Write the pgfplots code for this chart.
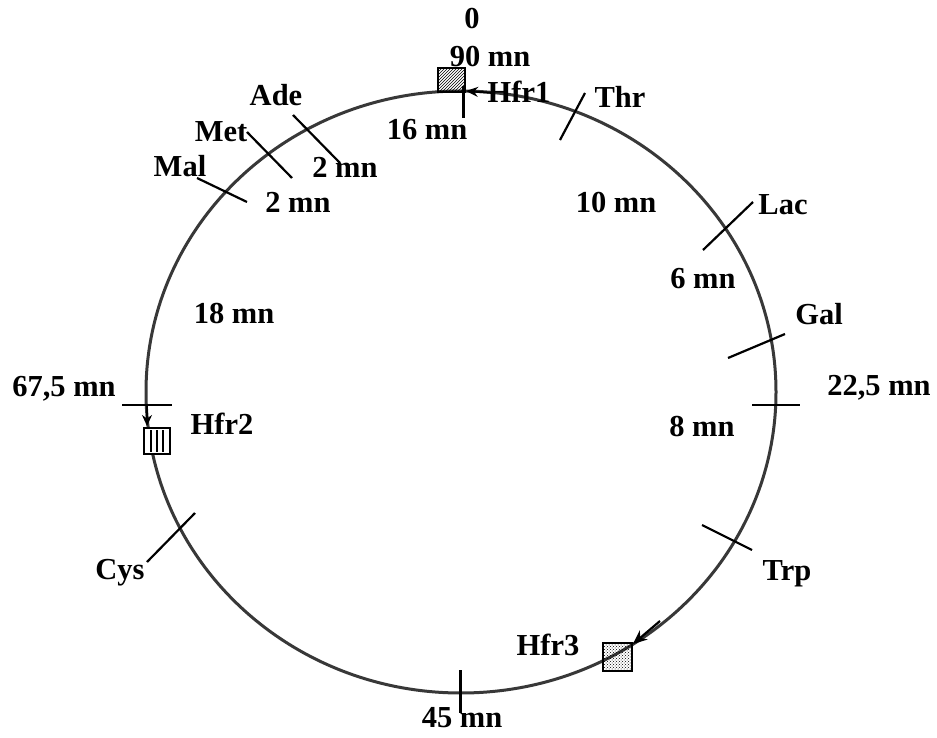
\documentclass[border=0pt]{standalone}
\usepackage{fontspec}
\setmainfont{Liberation Serif}
\usepackage{pgfplots}
\pgfplotsset{compat=1.18}
\usetikzlibrary{patterns,arrows.meta}
\begin{document}
\begin{tikzpicture}[lab/.style={inner sep=0pt, font=\fontsize{30.5pt}{32pt}\selectfont\bfseries}]
\begin{axis}[
  width=937pt, height=738pt, scale only axis,
  xmin=0, xmax=937, ymin=0, ymax=738, y dir=reverse,
  hide axis, clip=false,
]
% chromosome circle
\draw[black!78, line width=3pt] (axis cs:461,392) ellipse [x radius=315, y radius=301];
% gene / position ticks (pixel coordinates read from the map)
\addplot[black, line width=3pt] coordinates {(463,86) (463,118)};   % Hfr1 / 0
\addplot[black, line width=2.2pt] coordinates {(585,93) (560,140)};   % Thr
\addplot[black, line width=2.2pt] coordinates {(293,115) (340,163)};  % Ade
\addplot[black, line width=2.2pt] coordinates {(247,132) (292,178)};  % Met
\addplot[black, line width=2.2pt] coordinates {(197,178) (247,202)};  % Mal
\addplot[black, line width=2.2pt] coordinates {(753,202) (703,250)};  % Lac
\addplot[black, line width=2.2pt] coordinates {(785,334) (728,358)};  % Gal
\addplot[black, line width=2.5pt] coordinates {(752,405) (800,405)}; % 22,5
\addplot[black, line width=2.2pt] coordinates {(702,525) (752,550)};  % Trp
\addplot[black, line width=3pt] coordinates {(460,670) (460,713)};  % 45
\addplot[black, line width=2.2pt] coordinates {(195,513) (147,562)};  % Cys
\addplot[black, line width=2.5pt] coordinates {(122,405) (172,405)}; % 67,5
% Hfr boxes
\addplot[black, line width=2pt, pattern=north east lines] coordinates {(438,68) (465,68) (465,92) (438,92)} -- cycle;
\addplot[black, line width=1.8pt, fill=white] coordinates {(144,428) (170,428) (170,454) (144,454)} -- cycle;
\addplot[black, line width=1.5pt] coordinates {(151,430) (151,452)};
\addplot[black, line width=1.5pt] coordinates {(157,430) (157,452)};
\addplot[black, line width=1.5pt] coordinates {(163,430) (163,452)};
\addplot[black, line width=2pt, pattern=crosshatch dots] coordinates {(603,643) (632,643) (632,671) (603,671)} -- cycle;
% Hfr arrows
\addplot[black, line width=2pt, -{Stealth[length=12pt,width=10pt]}] coordinates {(494,93) (466,91)};
\addplot[black, line width=2pt, -{Stealth[length=11pt,width=10pt]}] coordinates {(147,405) (147,426)};
\addplot[black, line width=2.2pt, -{Stealth[length=14pt,width=12pt]}] coordinates {(660,621) (633,644)};
% labels
\node[lab] at (axis cs:472,19) {0};
\node[lab] at (axis cs:490,57) {90 mn};
\node[lab] at (axis cs:519,92) {Hfr1};
\node[lab] at (axis cs:620,97) {Thr};
\node[lab] at (axis cs:427,130) {16 mn};
\node[lab] at (axis cs:276,95) {Ade};
\node[lab] at (axis cs:221,132) {Met};
\node[lab] at (axis cs:345,167) {2 mn};
\node[lab] at (axis cs:180,166) {Mal};
\node[lab] at (axis cs:298,202) {2 mn};
\node[lab] at (axis cs:616,203) {10 mn};
\node[lab] at (axis cs:783,205) {Lac};
\node[lab] at (axis cs:703,279) {6 mn};
\node[lab] at (axis cs:819,314) {Gal};
\node[lab] at (axis cs:234,314) {18 mn};
\node[lab] at (axis cs:64,389) {67,5 mn};
\node[lab] at (axis cs:879,388) {22,5 mn};
\node[lab] at (axis cs:702,427) {8 mn};
\node[lab] at (axis cs:222,424) {Hfr2};
\node[lab] at (axis cs:120,573) {Cys};
\node[lab] at (axis cs:787,574) {Trp};
\node[lab] at (axis cs:548,645) {Hfr3};
\node[lab] at (axis cs:462,718) {45 mn};
\end{axis}
\pgfresetboundingbox
\path (current axis.south west) rectangle (current axis.north east);
\end{tikzpicture}
\end{document}
